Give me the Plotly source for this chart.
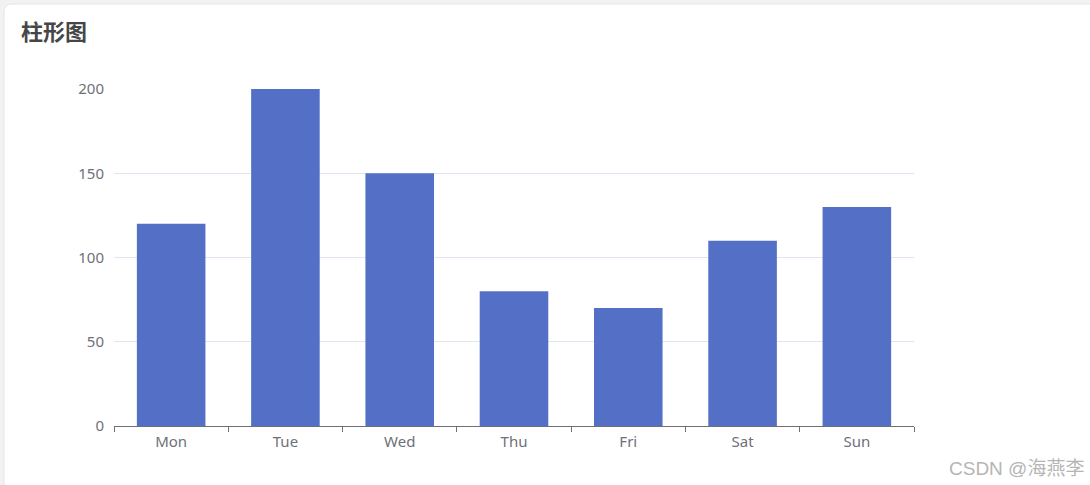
import plotly.graph_objects as go

categories = ["Mon", "Tue", "Wed", "Thu", "Fri", "Sat", "Sun"]
values = [120, 200, 150, 80, 70, 110, 130]
y_ticks = [0, 50, 100, 150, 200]

W, H = 1090, 485
L, R, T, B = 114, 176, 89, 59
pw, ph = W - L - R, H - T - B

def px(x):
    return (x - L) / pw

def py(y):
    return (H - B - y) / ph

fig = go.Figure(go.Bar(
    x=categories, y=values, marker=dict(color="#5470c6", line=dict(width=0)),
    width=0.6, hoverinfo="x+y"))

r = 8
x0, y0, x1, y1 = px(4), py(4), px(1100), py(500)
rx, ry = r / pw, r / ph
path = (f"M {x0},{y1} L {x0},{y0 - ry} Q {x0},{y0} {x0 + rx},{y0} "
        f"L {x1},{y0} L {x1},{y1} Z")

fig.update_layout(
    width=W, height=H,
    margin=dict(l=L, r=R, t=T, b=B),
    paper_bgcolor="#f2f2f2",
    plot_bgcolor="rgba(0,0,0,0)",
    showlegend=False,
    font=dict(family="Noto Sans, Noto Sans CJK SC, sans-serif", color="#6e7079", size=15),
    shapes=[dict(type="path", xref="paper", yref="paper", path=path,
                 fillcolor="white", line=dict(color="#e6e6e6", width=1), layer="below")],
    annotations=[
        dict(text="<b>柱形图</b>", x=px(19), y=py(30), xref="paper", yref="paper",
             xanchor="left", yanchor="middle", showarrow=False,
             font=dict(family="Noto Sans CJK SC", size=22, color="#464646")),
        dict(text="CSDN @海燕李", x=px(1086), y=py(468), xref="paper", yref="paper",
             xanchor="right", yanchor="middle", showarrow=False,
             font=dict(family="Liberation Sans, Noto Sans CJK SC, sans-serif", size=19, color="#b5b5b5")),
    ],
    xaxis=dict(
        type="category", tickson="boundaries", ticks="outside", ticklen=5,
        tickcolor="#6e7079", showline=True, linecolor="#6e7079", linewidth=1,
        showgrid=False, zeroline=False, tickfont=dict(size=15, color="#6e7079"),
        ticklabelstandoff=2,
    ),
    yaxis=dict(
        range=[0, 200], tickvals=y_ticks, showgrid=True, gridcolor="#e0e6f1",
        zeroline=False, showline=False, ticks="", ticklabelstandoff=9,
        tickfont=dict(size=15, color="#6e7079"),
    ),
    bargap=0.4,
)

fig.write_html("out.html", config={"displayModeBar": False},
               post_script="document.body.style.margin='0';document.body.style.overflow='hidden';")
